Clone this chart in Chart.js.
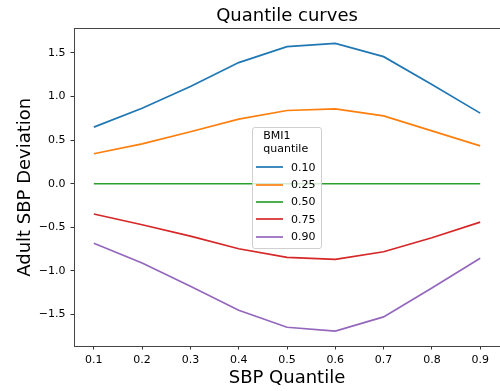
<!DOCTYPE html>
<html>
<head>
<meta charset="utf-8">
<title>Quantile curves</title>
<script src="https://cdn.jsdelivr.net/npm/chart.js@4.4.1/dist/chart.umd.min.js"></script>
<style>
  html, body { margin: 0; padding: 0; background: #fff; }
  #wrap { position: relative; width: 500px; height: 391px; }
  #legend {
    position: absolute;
    left: 252.3px;
    top: 126.7px;
    width: 70px;
    height: 122px;
    box-sizing: border-box;
    border: 1px solid #d0d0d0;
    border-radius: 3px;
    background: rgba(255, 255, 255, 0.8);
    padding-top: 2.6px;
    font-family: "DejaVu Sans", sans-serif;
    font-size: 11px;
    color: #000;
  }
  #legend .lg-title { line-height: 12.7px; padding-left: 10px; margin-bottom: 2.9px; }
  #legend .lg-row { display: flex; align-items: center; height: 17.35px; }
  #legend .lg-swatch { display: block; width: 27px; height: 6px; margin-left: 2.7px; margin-right: 8px; }
</style>
</head>
<body>
<div id="wrap">
  <canvas id="quantileChart" width="500" height="391"></canvas>
  <div id="legend"></div>
</div>
<script>
/* ================================
   Data
================================ */
const sbpQuantiles = [0.1, 0.2, 0.3, 0.4, 0.5, 0.6, 0.7, 0.8, 0.9];

const bmiQuantiles = ["0.10", "0.25", "0.50", "0.75", "0.90"];

const dev10 = [0.65, 0.867, 1.115, 1.39, 1.573, 1.61, 1.458, 1.139, 0.81];
const dev25 = [0.344, 0.458, 0.596, 0.741, 0.84, 0.859, 0.779, 0.607, 0.435];
const dev50 = [0, 0, 0, 0, 0, 0, 0, 0, 0];
const dev75 = [-0.347, -0.47, -0.6, -0.745, -0.844, -0.867, -0.78, -0.619, -0.44];
const dev90 = [-0.683, -0.909, -1.175, -1.45, -1.646, -1.69, -1.527, -1.195, -0.855];

const xTicks = [0.1, 0.2, 0.3, 0.4, 0.5, 0.6, 0.7, 0.8, 0.9];
const yTicks = [-1.5, -1.0, -0.5, 0.0, 0.5, 1.0, 1.5];

const legendTitle = ["BMI1", "quantile"];

/* ================================
   Style
================================ */
const palette = ["#1f77b4", "#ff7f0e", "#2ca02c", "#d62728", "#9467bd"];
const FONT = "'DejaVu Sans', 'Liberation Sans', sans-serif";

function toPoints(values) {
  return sbpQuantiles.map((x, i) => ({ x, y: values[i] }));
}

const series = [dev10, dev25, dev50, dev75, dev90];

const datasets = series.map((values, i) => ({
  label: bmiQuantiles[i],
  data: toPoints(values),
  borderColor: palette[i],
  backgroundColor: palette[i],
  borderWidth: 1.7,
  pointRadius: 0,
  tension: 0,
  fill: false
}));

/* ================================
   Plugins
================================ */
// full box around the plot area
const frame = {
  id: "frame",
  afterDatasetsDraw(chart) {
    const { ctx, chartArea: a } = chart;
    ctx.save();
    ctx.strokeStyle = "#444";
    ctx.lineWidth = 1;
    ctx.strokeRect(Math.round(a.left) - 0.5, Math.round(a.top) - 0.5,
      Math.round(a.right - a.left) + 1, Math.round(a.bottom - a.top) + 1);
    ctx.restore();
  }
};

// legend as html, built from the datasets
const SVG_NS = "http://www.w3.org/2000/svg";

function swatch(color) {
  const svg = document.createElementNS(SVG_NS, "svg");
  svg.setAttribute("class", "lg-swatch");
  svg.setAttribute("width", "27");
  svg.setAttribute("height", "6");
  const line = document.createElementNS(SVG_NS, "line");
  line.setAttribute("x1", "0");
  line.setAttribute("x2", "27");
  line.setAttribute("y1", "3");
  line.setAttribute("y2", "3");
  line.setAttribute("stroke", color);
  line.setAttribute("stroke-width", "1.7");
  svg.appendChild(line);
  return svg;
}

const htmlLegend = {
  id: "htmlLegend",
  afterUpdate(chart) {
    const box = document.getElementById("legend");
    box.innerHTML = "";
    const title = document.createElement("div");
    title.className = "lg-title";
    title.innerHTML = legendTitle.join("<br>");
    box.appendChild(title);
    chart.data.datasets.forEach(ds => {
      const row = document.createElement("div");
      row.className = "lg-row";
      const txt = document.createElement("span");
      txt.textContent = ds.label;
      row.appendChild(swatch(ds.borderColor));
      row.appendChild(txt);
      box.appendChild(row);
    });
  }
};

/* ================================
   Chart
================================ */
const fmt = v => Number(v).toFixed(1).replace("-", "\u2212");

new Chart(document.getElementById("quantileChart"), {
  type: "line",
  data: { datasets },
  options: {
    responsive: false,
    animation: false,
    devicePixelRatio: 1,
    layout: { padding: { top: 0, right: 0.5, bottom: 0, left: 0 } },
    plugins: {
      legend: { display: false },
      tooltip: { enabled: false },
      title: {
        display: true,
        text: "Quantile curves",
        fullSize: false,
        color: "#000",
        font: { family: FONT, size: 18, weight: "normal" },
        padding: { top: 5.1, bottom: 2.3 }
      }
    },
    scales: {
      x: {
        type: "linear",
        min: 0.06,
        max: 0.94,
        afterBuildTicks: s => { s.ticks = xTicks.map(v => ({ value: v })); },
        afterFit: s => { s.height = 45.5; },
        grid: { drawOnChartArea: false, drawTicks: true, tickLength: 4, tickColor: "#333", tickWidth: 1 },
        border: { display: false },
        ticks: {
          color: "#000",
          padding: 4,
          maxRotation: 0,
          font: { family: FONT, size: 11 },
          callback: v => fmt(v)
        },
        title: {
          display: true,
          text: "SBP Quantile",
          color: "#000",
          font: { family: FONT, size: 18, weight: "normal" },
          padding: { top: 0, bottom: 1.6 }
        }
      },
      y: {
        type: "linear",
        min: -1.855,
        max: 1.775,
        afterBuildTicks: s => { s.ticks = yTicks.map(v => ({ value: v })); },
        afterFit: s => { s.width = 74.5; },
        grid: { drawOnChartArea: false, drawTicks: true, tickLength: 4, tickColor: "#333", tickWidth: 1 },
        border: { display: false },
        ticks: {
          color: "#000",
          padding: 5,
          font: { family: FONT, size: 11 },
          callback: v => fmt(v)
        },
        title: {
          display: true,
          text: "Adult SBP Deviation",
          color: "#000",
          font: { family: FONT, size: 18, weight: "normal" },
          padding: { top: 15, bottom: 0 }
        }
      }
    }
  },
  plugins: [frame, htmlLegend]
});
</script>
</body>
</html>
